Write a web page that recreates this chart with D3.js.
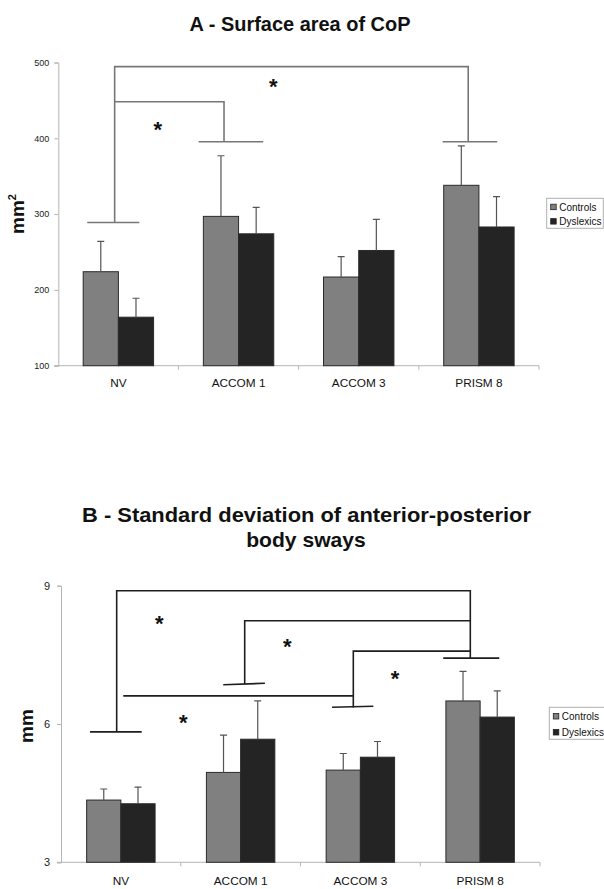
<!DOCTYPE html>
<html>
<head>
<meta charset="utf-8">
<script src="https://cdn.jsdelivr.net/npm/d3@7"></script>
<style>
  body { margin: 0; background: #fff; }
  svg { display: block; font-family: "Liberation Sans", Arial, sans-serif; }
</style>
</head>
<body>
<svg id="chart" width="604" height="889"></svg>
<script>
// ---- data ----
const categories = ["NV", "ACCOM 1", "ACCOM 3", "PRISM 8"];
const seriesNames = ["Controls", "Dyslexics"];

const areaTicks = [100, 200, 300, 400, 500];
const areaControls = [224, 297, 217, 338];
const areaControlsErr = [40, 80, 27, 52];
const areaDyslexics = [164, 274, 252, 283];
const areaDyslexicsErr = [25, 35, 41, 40];

const swayTicks = [3, 6, 9];
const swayControls = [4.35, 4.95, 5.0, 6.5];
const swayControlsErr = [0.24, 0.81, 0.36, 0.64];
const swayDyslexics = [4.27, 5.67, 5.28, 6.15];
const swayDyslexicsErr = [0.36, 0.83, 0.34, 0.57];

// significance brackets: [category, fraction across band, value]
const bracketsA = [
  [["NV", 0.241, 289], ["NV", 0.674, 289]],
  [["NV", 0.469, 289], ["NV", 0.469, 494.5], ["PRISM 8", 0.411, 494.5], ["PRISM 8", 0.411, 395.5]],
  [["PRISM 8", 0.198, 395.5], ["PRISM 8", 0.652, 395.5]],
  [["NV", 0.469, 448.3], ["ACCOM 1", 0.379, 448.3], ["ACCOM 1", 0.379, 395.5]],
  [["ACCOM 1", 0.168, 395.5], ["ACCOM 1", 0.705, 395.5]]
];
const starsA = [["ACCOM 1", 0.789, 474.7], ["NV", 0.827, 417.5]];

const bracketsB = [
  [["NV", 0.242, 5.83], ["NV", 0.674, 5.83]],
  [["NV", 0.465, 5.83], ["NV", 0.465, 8.89], ["PRISM 8", 0.418, 8.89], ["PRISM 8", 0.418, 7.43]],
  [["PRISM 8", 0.192, 7.43], ["PRISM 8", 0.660, 7.43]],
  [["ACCOM 1", 0.534, 6.87], ["ACCOM 1", 0.534, 8.24], ["PRISM 8", 0.418, 8.24]],
  [["ACCOM 1", 0.355, 6.853], ["ACCOM 1", 0.703, 6.883]],
  [["ACCOM 3", 0.441, 6.36], ["ACCOM 3", 0.441, 7.58], ["PRISM 8", 0.418, 7.58]],
  [["ACCOM 3", 0.263, 6.362], ["ACCOM 3", 0.608, 6.384]],
  [["NV", 0.52, 6.61], ["ACCOM 3", 0.441, 6.61]]
];
const starsB = [["NV", 0.821, 8.29], ["ACCOM 1", 0.890, 7.785], ["ACCOM 3", 0.789, 7.085], ["ACCOM 1", 0.021, 6.145]];

// ---- drawing ----
const svg = d3.select("#chart");
const colors = { Controls: "#808080", Dyslexics: "#242424" };

function drawPanel(cfg) {
  const g = svg.append("g");
  const x0 = d3.scaleBand().domain(categories).range([cfg.left, cfg.right]).padding(0);
  const x1 = d3.scaleBand().domain(seriesNames).range([0, x0.bandwidth()])
    .paddingInner(0).paddingOuter(cfg.outerPad);
  const y = d3.scaleLinear().domain(cfg.domain).range([cfg.bottom, cfg.top]);

  // title
  cfg.titleLines.forEach((t, i) => {
    g.append("text")
      .attr("x", t.cx).attr("y", t.y)
      .attr("text-anchor", "middle")
      .attr("font-size", 21).attr("font-weight", "bold").attr("fill", "#111")
      .attr("textLength", t.w).attr("lengthAdjust", "spacingAndGlyphs")
      .text(t.text);
  });

  // y axis
  const ya = g.append("g").attr("transform", `translate(${cfg.left},0)`)
    .call(d3.axisLeft(y).tickValues(cfg.ticks).tickSize(4).tickPadding(cfg.tickPad).tickFormat(d3.format("d")));
  ya.select(".domain").attr("stroke", "#b5b5b5");
  ya.selectAll(".tick line").attr("stroke", "#b5b5b5");
  ya.selectAll(".tick text").attr("font-size", cfg.tickFont).attr("fill", "#222")
    .attr("font-family", "Liberation Sans, Arial, sans-serif");

  // x axis baseline + boundary ticks
  g.append("line").attr("x1", cfg.left - 4).attr("x2", cfg.right)
    .attr("y1", cfg.bottom).attr("y2", cfg.bottom).attr("stroke", "#b5b5b5");
  categories.forEach(c => {
    const bx = x0(c) + x0.bandwidth();
    g.append("line").attr("x1", bx).attr("x2", bx)
      .attr("y1", cfg.bottom).attr("y2", cfg.bottom + 4).attr("stroke", "#b5b5b5");
  });
  g.selectAll(".xlab").data(categories).enter().append("text")
    .attr("x", c => x0(c) + x0.bandwidth() / 2)
    .attr("y", cfg.labelY)
    .attr("text-anchor", "middle").attr("font-size", 11.8).attr("fill", "#111")
    .text(c => c);

  // y-axis title
  const yt = g.append("text")
    .attr("transform", `translate(${cfg.yTitleX},${cfg.yTitleY}) rotate(-90)`)
    .attr("text-anchor", "middle").attr("font-size", 19).attr("font-weight", "bold").attr("fill", "#111");
  yt.append("tspan").text(cfg.yTitle);
  if (cfg.yTitleSup) yt.append("tspan").attr("font-size", 11).attr("dy", -8).text(cfg.yTitleSup);

  // bars
  const rows = categories.map((c, i) => ({
    c, vals: seriesNames.map((s, k) => ({ s, v: cfg.values[k][i], e: cfg.errs[k][i] }))
  }));
  const grp = g.selectAll(".grp").data(rows).enter().append("g")
    .attr("transform", d => `translate(${x0(d.c)},0)`);
  grp.selectAll("rect").data(d => d.vals).enter().append("rect")
    .attr("x", d => x1(d.s)).attr("width", x1.bandwidth())
    .attr("y", d => y(d.v)).attr("height", d => cfg.bottom - y(d.v))
    .attr("fill", d => colors[d.s]).attr("stroke", "#2a2a2a").attr("stroke-width", 1);
  grp.selectAll(".err").data(d => d.vals).enter().append("path")
    .attr("d", d => {
      const cx = x1(d.s) + x1.bandwidth() / 2;
      return `M${cx},${y(d.v)}V${y(d.v + d.e)}M${cx - 3.5},${y(d.v + d.e)}H${cx + 3.5}`;
    })
    .attr("stroke", "#555").attr("stroke-width", 1.2).attr("fill", "none");

  // brackets
  const px = p => x0(p[0]) + p[1] * x0.bandwidth();
  const line = d3.line().x(px).y(p => y(p[2]));
  g.selectAll(".br").data(cfg.brackets).enter().append("path")
    .attr("d", line).attr("fill", "none")
    .attr("stroke", cfg.bracketColor).attr("stroke-width", 1.6);
  g.selectAll(".star").data(cfg.stars).enter().append("text")
    .attr("x", px).attr("y", p => y(p[2]) + 0.56 * 22)
    .attr("text-anchor", "middle").attr("font-size", 22).attr("font-weight", "bold").attr("fill", "#111")
    .text("*");

  // legend
  const L = cfg.legend;
  const lg = g.append("g").attr("transform", `translate(${L.x},${L.y})`);
  lg.append("rect").attr("width", L.w).attr("height", L.h)
    .attr("fill", "#fff").attr("stroke", "#b0b0b0");
  seriesNames.forEach((s, i) => {
    lg.append("rect").attr("x", 4).attr("y", L.row0 + i * L.step - 6.5).attr("width", 5.5).attr("height", 5.5)
      .attr("fill", colors[s]).attr("stroke", "#222").attr("stroke-width", 0.8);
    lg.append("text").attr("x", 12.5).attr("y", L.row0 + i * L.step)
      .attr("font-size", 10).attr("fill", "#111").text(s);
  });
}

drawPanel({
  left: 58.3, right: 539, top: 62.5, bottom: 365.7, domain: [100, 500], ticks: areaTicks,
  tickPad: 5, tickFont: 9, outerPad: 0.707, labelY: 387,
  values: [areaControls, areaDyslexics], errs: [areaControlsErr, areaDyslexicsErr],
  titleLines: [{ text: "A - Surface area of CoP", cx: 300, y: 30.7, w: 221 }],
  yTitle: "mm", yTitleSup: "2", yTitleX: 24, yTitleY: 214,
  brackets: bracketsA, stars: starsA, bracketColor: "#777",
  legend: { x: 546.7, y: 198.3, w: 56.6, h: 30, row0: 12.4, step: 14.4 }
});

drawPanel({
  left: 61, right: 540, top: 585.7, bottom: 862.3, domain: [3, 9], ticks: swayTicks,
  tickPad: 7, tickFont: 11, outerPad: 0.75, labelY: 885,
  values: [swayControls, swayDyslexics], errs: [swayControlsErr, swayDyslexicsErr],
  titleLines: [
    { text: "B - Standard deviation of anterior-posterior", cx: 306.5, y: 521.7, w: 449 },
    { text: "body sways", cx: 306, y: 546.5, w: 119.5 }
  ],
  yTitle: "mm", yTitleX: 33, yTitleY: 726,
  brackets: bracketsB, stars: starsB, bracketColor: "#1e1e1e",
  legend: { x: 549.3, y: 707.3, w: 60, h: 32, row0: 12.7, step: 16 }
});
</script>
</body>
</html>
